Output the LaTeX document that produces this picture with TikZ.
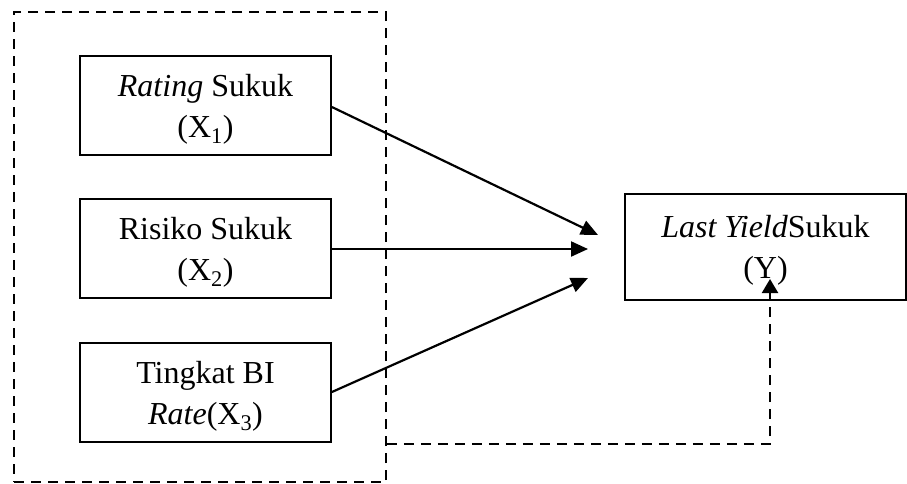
\documentclass[tikz,border=0pt]{standalone}
\usepackage{fontspec}
\setmainfont{Liberation Serif}
\usetikzlibrary{arrows.meta}
\usetikzlibrary{positioning}

\tikzset{
  varbox/.style={draw, line width=1.8pt, align=center, inner sep=0pt,
    minimum width=251pt, minimum height=99pt, text depth=0pt,
    font=\fontsize{32}{41}\selectfont},
  framebox/.style={draw, dashed, line width=1.8pt,
    dash pattern=on 10pt off 7pt, inner sep=0pt},
  effect/.style={line width=2.2pt, -{Triangle[length=17pt, width=15pt]}},
}

\begin{document}
\begin{tikzpicture}[line cap=butt,line join=miter, x=1pt,y=-1pt]
\useasboundingbox (0,0) rectangle (907,483);
% independent variables inside the dashed frame
\node[framebox, minimum width=372pt, minimum height=470pt] (frame) at (200,247) {};
\node[varbox] (rating) at (205.5,105.5) {\textit{Rating} Sukuk\\(X\textsubscript{1})};
\node[varbox] (risiko) at (205.5,248.5) {Risiko Sukuk\\(X\textsubscript{2})};
\node[varbox] (bi) at (205.5,392.5) {Tingkat BI\\\textit{Rate}(X\textsubscript{3})};
% dependent variable
\node[varbox, minimum width=281pt, minimum height=106pt] (yield) at (765.5,247) {\textit{Last Yield}Sukuk\\(Y)};
% arrow ends
\coordinate (t1) at (598,235);
\coordinate (t2) at (588,249);
\coordinate (t3) at (588,278);
\coordinate (ty) at (770,279);
\draw [effect] (rating.east |- 0,107) -- (t1);
\draw [effect] (risiko.east |- 0,249) -- (t2);
\draw [effect] (bi.east |- 0,392) -- (t3);
% simultaneous effect
\draw [line width=2.2pt, dash pattern=on 10pt off 7pt, -{Triangle[length=14pt, width=16pt]}]
  (frame.east |- 0,444) -- (ty |- 0,444) -- (ty);
\end{tikzpicture}
\end{document}
